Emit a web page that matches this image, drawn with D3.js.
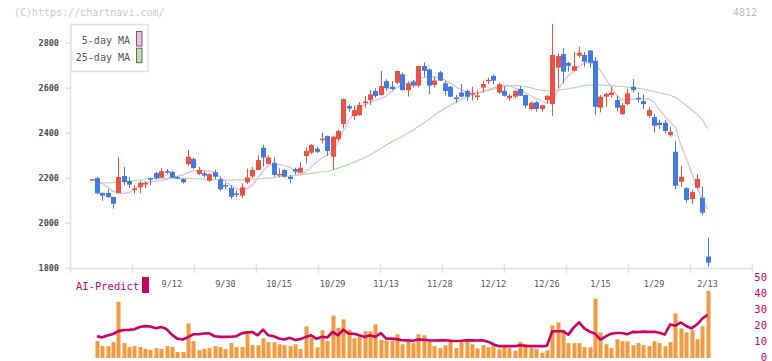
<!DOCTYPE html>
<html>
<head>
<meta charset="utf-8">
<script src="https://cdn.jsdelivr.net/npm/d3@7"></script>
<style>
  html, body { margin: 0; padding: 0; background: #fff; }
  svg { display: block; font-family: "DejaVu Sans Mono", monospace; }
</style>
</head>
<body>
<svg id="chart" width="772" height="361"></svg>
<script>
// daily candles (index 0 = 8/22 ... 115 = 2/13)
const opens  = [2196,2201,2135,2135,2117,2135,2210,2188,2152,2160,2172,2201,2223,2203,2232,2228,2206,2197,2263,2286,
                2219,2222,2189,2227,2196,2170,2157,2133,2123,2182,2208,2237,2336,2264,2269,2216,2237,2207,2241,2225,
                2299,2314,2331,2374,2388,2296,2374,2441,2521,2477,2481,2538,2548,2588,2570,2632,2607,2625,2662,2592,
                2630,2612,2699,2684,2615,2671,2622,2607,2560,2581,2588,2576,2565,2603,2635,2655,2581,2589,2556,2563,
                2597,2570,2508,2538,2508,2548,2530,2692,2752,2713,2678,2745,2748,2768,2723,2514,2563,2570,2548,2485,
                2530,2607,2558,2543,2478,2472,2447,2447,2392,2318,2185,2156,2108,2158,2114,1852];
const highs  = [2196,2207,2137,2152,2118,2295,2250,2207,2171,2188,2188,2204,2228,2244,2241,2233,2210,2199,2326,2293,
                2250,2232,2222,2237,2207,2180,2169,2148,2178,2243,2250,2303,2348,2303,2293,2244,2240,2215,2247,2274,
                2337,2352,2340,2404,2390,2390,2416,2555,2528,2523,2540,2566,2592,2600,2677,2640,2632,2679,2669,2630,
                2637,2701,2715,2689,2651,2677,2634,2610,2570,2619,2596,2607,2592,2634,2648,2662,2625,2607,2575,2592,
                2610,2572,2541,2543,2527,2570,2885,2755,2779,2718,2762,2785,2762,2770,2738,2570,2582,2607,2566,2535,
                2597,2641,2582,2573,2518,2484,2460,2459,2429,2366,2256,2160,2148,2219,2163,1936];
const lows   = [2196,2129,2100,2114,2065,2133,2169,2157,2132,2133,2155,2169,2195,2200,2220,2201,2196,2176,2255,2240,
                2215,2204,2185,2197,2145,2151,2109,2116,2113,2175,2200,2235,2252,2262,2207,2204,2203,2178,2218,2222,
                2266,2308,2312,2355,2300,2237,2366,2422,2496,2459,2478,2514,2526,2558,2568,2589,2592,2620,2590,2563,
                2603,2604,2651,2575,2603,2632,2567,2560,2536,2560,2545,2545,2547,2580,2619,2619,2575,2563,2545,2556,
                2565,2511,2503,2496,2496,2533,2478,2602,2622,2674,2676,2738,2696,2692,2481,2493,2518,2558,2496,2481,
                2525,2582,2538,2508,2469,2403,2420,2400,2385,2152,2163,2092,2085,2155,2037,1806];
const closes = [2196,2133,2123,2116,2087,2206,2183,2172,2155,2180,2179,2195,2200,2232,2225,2203,2199,2182,2296,2246,
                2237,2212,2218,2207,2151,2164,2118,2128,2160,2204,2237,2281,2292,2292,2215,2219,2207,2197,2230,2247,
                2321,2348,2318,2376,2321,2385,2410,2552,2510,2503,2526,2541,2573,2566,2610,2600,2597,2677,2592,2622,
                2612,2699,2678,2612,2635,2634,2588,2563,2552,2563,2563,2579,2568,2619,2638,2634,2618,2567,2567,2588,
                2567,2523,2536,2508,2525,2566,2748,2743,2674,2700,2699,2758,2718,2714,2518,2563,2575,2581,2514,2525,
                2578,2592,2551,2530,2503,2434,2437,2411,2407,2167,2207,2104,2139,2197,2047,1825];

// moving averages
const ma5  = [null,2190,2178,2160,2142,2133,2133,2136,2148,2168,2180,2184,2187,2190,2195,2204,2210,2214,2226,2233,
              2235,2234,2233,2226,2205,2186,2168,2155,2148,2154,2170,2200,2232,2258,2262,2262,2256,2250,2232,2215,
              2228,2252,2272,2290,2302,2320,2362,2410,2455,2492,2516,2527,2537,2547,2554,2566,2584,2605,2615,2622,
              2628,2640,2650,2651,2651,2645,2637,2622,2607,2594,2583,2578,2581,2585,2594,2602,2610,2614,2612,2602,
              2592,2579,2567,2555,2545,2533,2540,2588,2630,2656,2675,2698,2712,2715,2705,2680,2640,2608,2570,2550,
              2549,2551,2553,2555,2553,2538,2505,2476,2450,2428,2350,2290,2226,2160,2110,2062];
const ma25 = [null,2178,2179,2180,2181,2183,2185,2187,2190,2193,2196,2198,2199,2200,2200,2200,2200,2200,2200,2199,
              2198,2196,2195,2194,2193,2192,2192,2193,2194,2195,2196,2197,2199,2201,2203,2206,2208,2210,2213,2215,
              2219,2222,2226,2228,2230,2238,2245,2253,2262,2272,2282,2292,2304,2318,2333,2348,2362,2374,2386,2400,
              2414,2430,2446,2462,2480,2497,2512,2525,2538,2550,2560,2568,2576,2584,2590,2596,2603,2607,2611,2613,
              2611,2607,2602,2596,2592,2589,2590,2592,2595,2598,2602,2607,2612,2615,2615,2614,2613,2612,2610,2608,
              2605,2602,2600,2597,2592,2586,2580,2575,2569,2560,2543,2525,2505,2485,2460,2420];

// lower panel
const volumes = [null,10.5,7.4,7.4,9.9,35.2,9.3,6.8,7.4,6.8,5.8,5.1,6.2,5.6,7.4,6.8,3.7,3.7,21.6,10.5,
                 4.9,5.6,6.2,7.4,6.8,5.6,9.3,6.8,6.8,15.4,8.0,8.0,12.3,9.9,9.9,8.6,8.0,7.4,8.6,5.6,
                 19.8,12.8,6.6,17.3,10.7,26.5,18.9,24.1,17.7,12.3,13.6,16.7,16.7,21.0,11.3,10.9,10.9,14.8,8.6,10.3,
                 9.3,14.8,14.2,11.7,7.4,6.2,8.0,11.7,6.2,9.9,11.1,8.6,6.0,8.0,6.8,8.0,5.6,6.8,6.2,4.5,
                 10.1,8.6,6.2,5.6,3.3,4.7,20.4,22.2,17.7,9.3,9.3,9.3,6.8,6.8,37.0,16.0,8.6,6.2,11.7,10.5,
                 10.5,8.0,9.3,8.0,7.4,10.5,9.3,7.4,9.9,27.8,18.5,16.0,17.3,11.7,19.8,42.0];
const aiPredict = [null,13.6,12.9,14.0,15.0,16.8,17.5,17.6,18.0,19.4,19.9,19.7,18.6,19.4,18.1,14.6,12.1,11.6,13.0,14.8,
                   14.8,15.3,15.4,13.6,13.2,13.2,13.3,13.6,15.4,16.0,16.3,14.2,17.7,14.2,13.6,12.2,11.6,12.6,11.3,11.8,
                   13.2,14.2,12.0,13.2,12.8,16.3,14.2,17.7,15.2,15.2,14.2,13.2,14.2,13.2,15.6,12.1,12.1,11.8,11.1,11.0,
                   10.8,11.6,11.4,11.1,10.9,11.0,11.1,10.8,10.6,10.8,11.1,11.0,10.9,11.1,10.2,8.6,7.4,7.4,7.4,7.4,
                   8.0,7.6,7.4,7.4,7.4,7.6,16.7,16.7,16.7,14.6,19.0,22.2,18.5,16.5,15.2,11.5,13.5,15.2,15.6,15.6,
                   14.8,16.3,16.2,16.5,16.3,16.4,15.8,14.6,20.9,20.2,22.2,20.0,18.5,20.9,24.5,27.0];

const xLabels   = ["9/12","9/30","10/15","10/29","11/13","11/28","12/12","12/26","1/15","1/29","2/13"];
const xLabelIdx = [15,25,35,45,55,65,75,85,95,105,115];
const priceTicks = [1800,2000,2200,2400,2600,2800];
const lowerTicks = [0,10,20,30,40,50];

const UP = "#f0503e", DOWN = "#3f7ae8";
const svg = d3.select("#chart");
const n = closes.length;

const x = d3.scaleLinear().domain([0, n - 1]).range([91.5, 707.6]);
const y = d3.scaleLinear().domain([1800, 2885]).range([268.3, 24.2]);
const yLow = d3.scaleLinear().domain([0, 50]).range([358, 278]);
const gridX = d3.scaleLinear().domain([0, 11]).range([70, 752]);

// header texts
svg.append("text").attr("x", 14).attr("y", 16).attr("font-size", 10).attr("fill", "#c8c8c8")
  .text("(C)https://chartnavi.com/");
svg.append("text").attr("x", 757).attr("y", 16).attr("font-size", 10).attr("fill", "#bdbdbd")
  .attr("text-anchor", "end").text("4812");

// axes
const axisColor = "#e2e2e2";
svg.append("line").attr("x1", 70.5).attr("x2", 70.5).attr("y1", 24).attr("y2", 269)
  .attr("stroke", axisColor).attr("stroke-width", 1.5);
svg.append("line").attr("x1", 70).attr("x2", 752).attr("y1", 268.5).attr("y2", 268.5)
  .attr("stroke", axisColor).attr("stroke-width", 1.5);

svg.append("g").selectAll("line").data(d3.range(12)).join("line")
  .attr("x1", d => Math.round(gridX(d)) + 0.5).attr("x2", d => Math.round(gridX(d)) + 0.5)
  .attr("y1", 264).attr("y2", 273).attr("stroke", axisColor).attr("stroke-width", 1.5);

const yTicks = svg.append("g");
yTicks.selectAll("line").data(priceTicks).join("line")
  .attr("x1", 65).attr("x2", 70).attr("y1", d => y(d)).attr("y2", d => y(d))
  .attr("stroke", axisColor).attr("stroke-width", 1.5);
yTicks.selectAll("text").data(priceTicks).join("text")
  .attr("x", 59).attr("y", d => y(d) + 3).attr("text-anchor", "end")
  .attr("font-size", 8.5).attr("font-weight", "bold").attr("fill", "#4a4a4a")
  .text(d => d);

// moving averages
const maLine = d3.line().defined(d => d != null).x((d, i) => x(i)).y(d => y(d));
svg.append("path").attr("d", maLine(ma25)).attr("fill", "none").attr("stroke", "#b3dca6").attr("stroke-width", 1.2);
svg.append("path").attr("d", maLine(ma5)).attr("fill", "none").attr("stroke", "#e8b2ea").attr("stroke-width", 1.2);

// candles
const candles = svg.append("g").selectAll("g").data(d3.range(n)).join("g");
candles.append("line")
  .attr("x1", i => Math.round(x(i)) + 0.5).attr("x2", i => Math.round(x(i)) + 0.5)
  .attr("y1", i => y(highs[i])).attr("y2", i => y(lows[i]))
  .attr("stroke", i => closes[i] >= opens[i] ? UP : DOWN).attr("stroke-width", 1);
candles.append("rect")
  .attr("x", i => Math.round(x(i)) - 2)
  .attr("width", 5)
  .attr("y", i => y(Math.max(opens[i], closes[i])))
  .attr("height", i => Math.max(1.5, Math.abs(y(opens[i]) - y(closes[i]))))
  .attr("fill", i => closes[i] >= opens[i] ? UP : DOWN);

// legend box
const lg = svg.append("g");
lg.append("rect").attr("x", 71).attr("y", 24.5).attr("width", 77).attr("height", 47)
  .attr("fill", "#fff").attr("stroke", axisColor).attr("stroke-width", 1.5);
const legendItems = [["5-day MA", "#eebbee"], ["25-day MA", "#bbddaa"]];
legendItems.forEach(([label, col], k) => {
  lg.append("text").attr("x", 130).attr("y", 44 + k * 16.7).attr("text-anchor", "end")
    .attr("font-size", 10).attr("fill", "#555").text(label);
  lg.append("rect").attr("x", 136.5).attr("y", 31.5 + k * 16.7).attr("width", 5.5).attr("height", 14.5)
    .attr("fill", col).attr("stroke", "#666").attr("stroke-width", 1);
});

// x labels
svg.append("g").selectAll("text").data(xLabels).join("text")
  .attr("x", (d, k) => x(xLabelIdx[k])).attr("y", 286.5).attr("text-anchor", "middle")
  .attr("font-size", 8.5).attr("fill", "#555").text(d => d);

// AI-Predict label
svg.append("text").attr("x", 76).attr("y", 289.5).attr("font-size", 10.5).attr("fill", "#cc0066")
  .text("AI-Predict");
svg.append("rect").attr("x", 142).attr("y", 277).attr("width", 7).attr("height", 16).attr("fill", "#cc0066");

// right axis labels
svg.append("g").selectAll("text").data(lowerTicks).join("text")
  .attr("x", 767).attr("y", d => yLow(d) + 2.5).attr("text-anchor", "end")
  .attr("font-size", 10.5).attr("fill", "#cc0066").text(d => d);

// volume bars
svg.append("g").selectAll("rect").data(d3.range(n).filter(i => volumes[i] != null)).join("rect")
  .attr("x", i => Math.round(x(i)) - 1.5).attr("width", 4)
  .attr("y", i => yLow(volumes[i])).attr("height", i => yLow(0) - yLow(volumes[i]))
  .attr("fill", "#f39a3e");

// AI predict line
const aiLine = d3.line().defined(d => d != null).x((d, i) => x(i)).y(d => yLow(d));
svg.append("path").attr("d", aiLine(aiPredict)).attr("fill", "none")
  .attr("stroke", "#cc0066").attr("stroke-width", 2.6).attr("stroke-linejoin", "round");
</script>
</body>
</html>
